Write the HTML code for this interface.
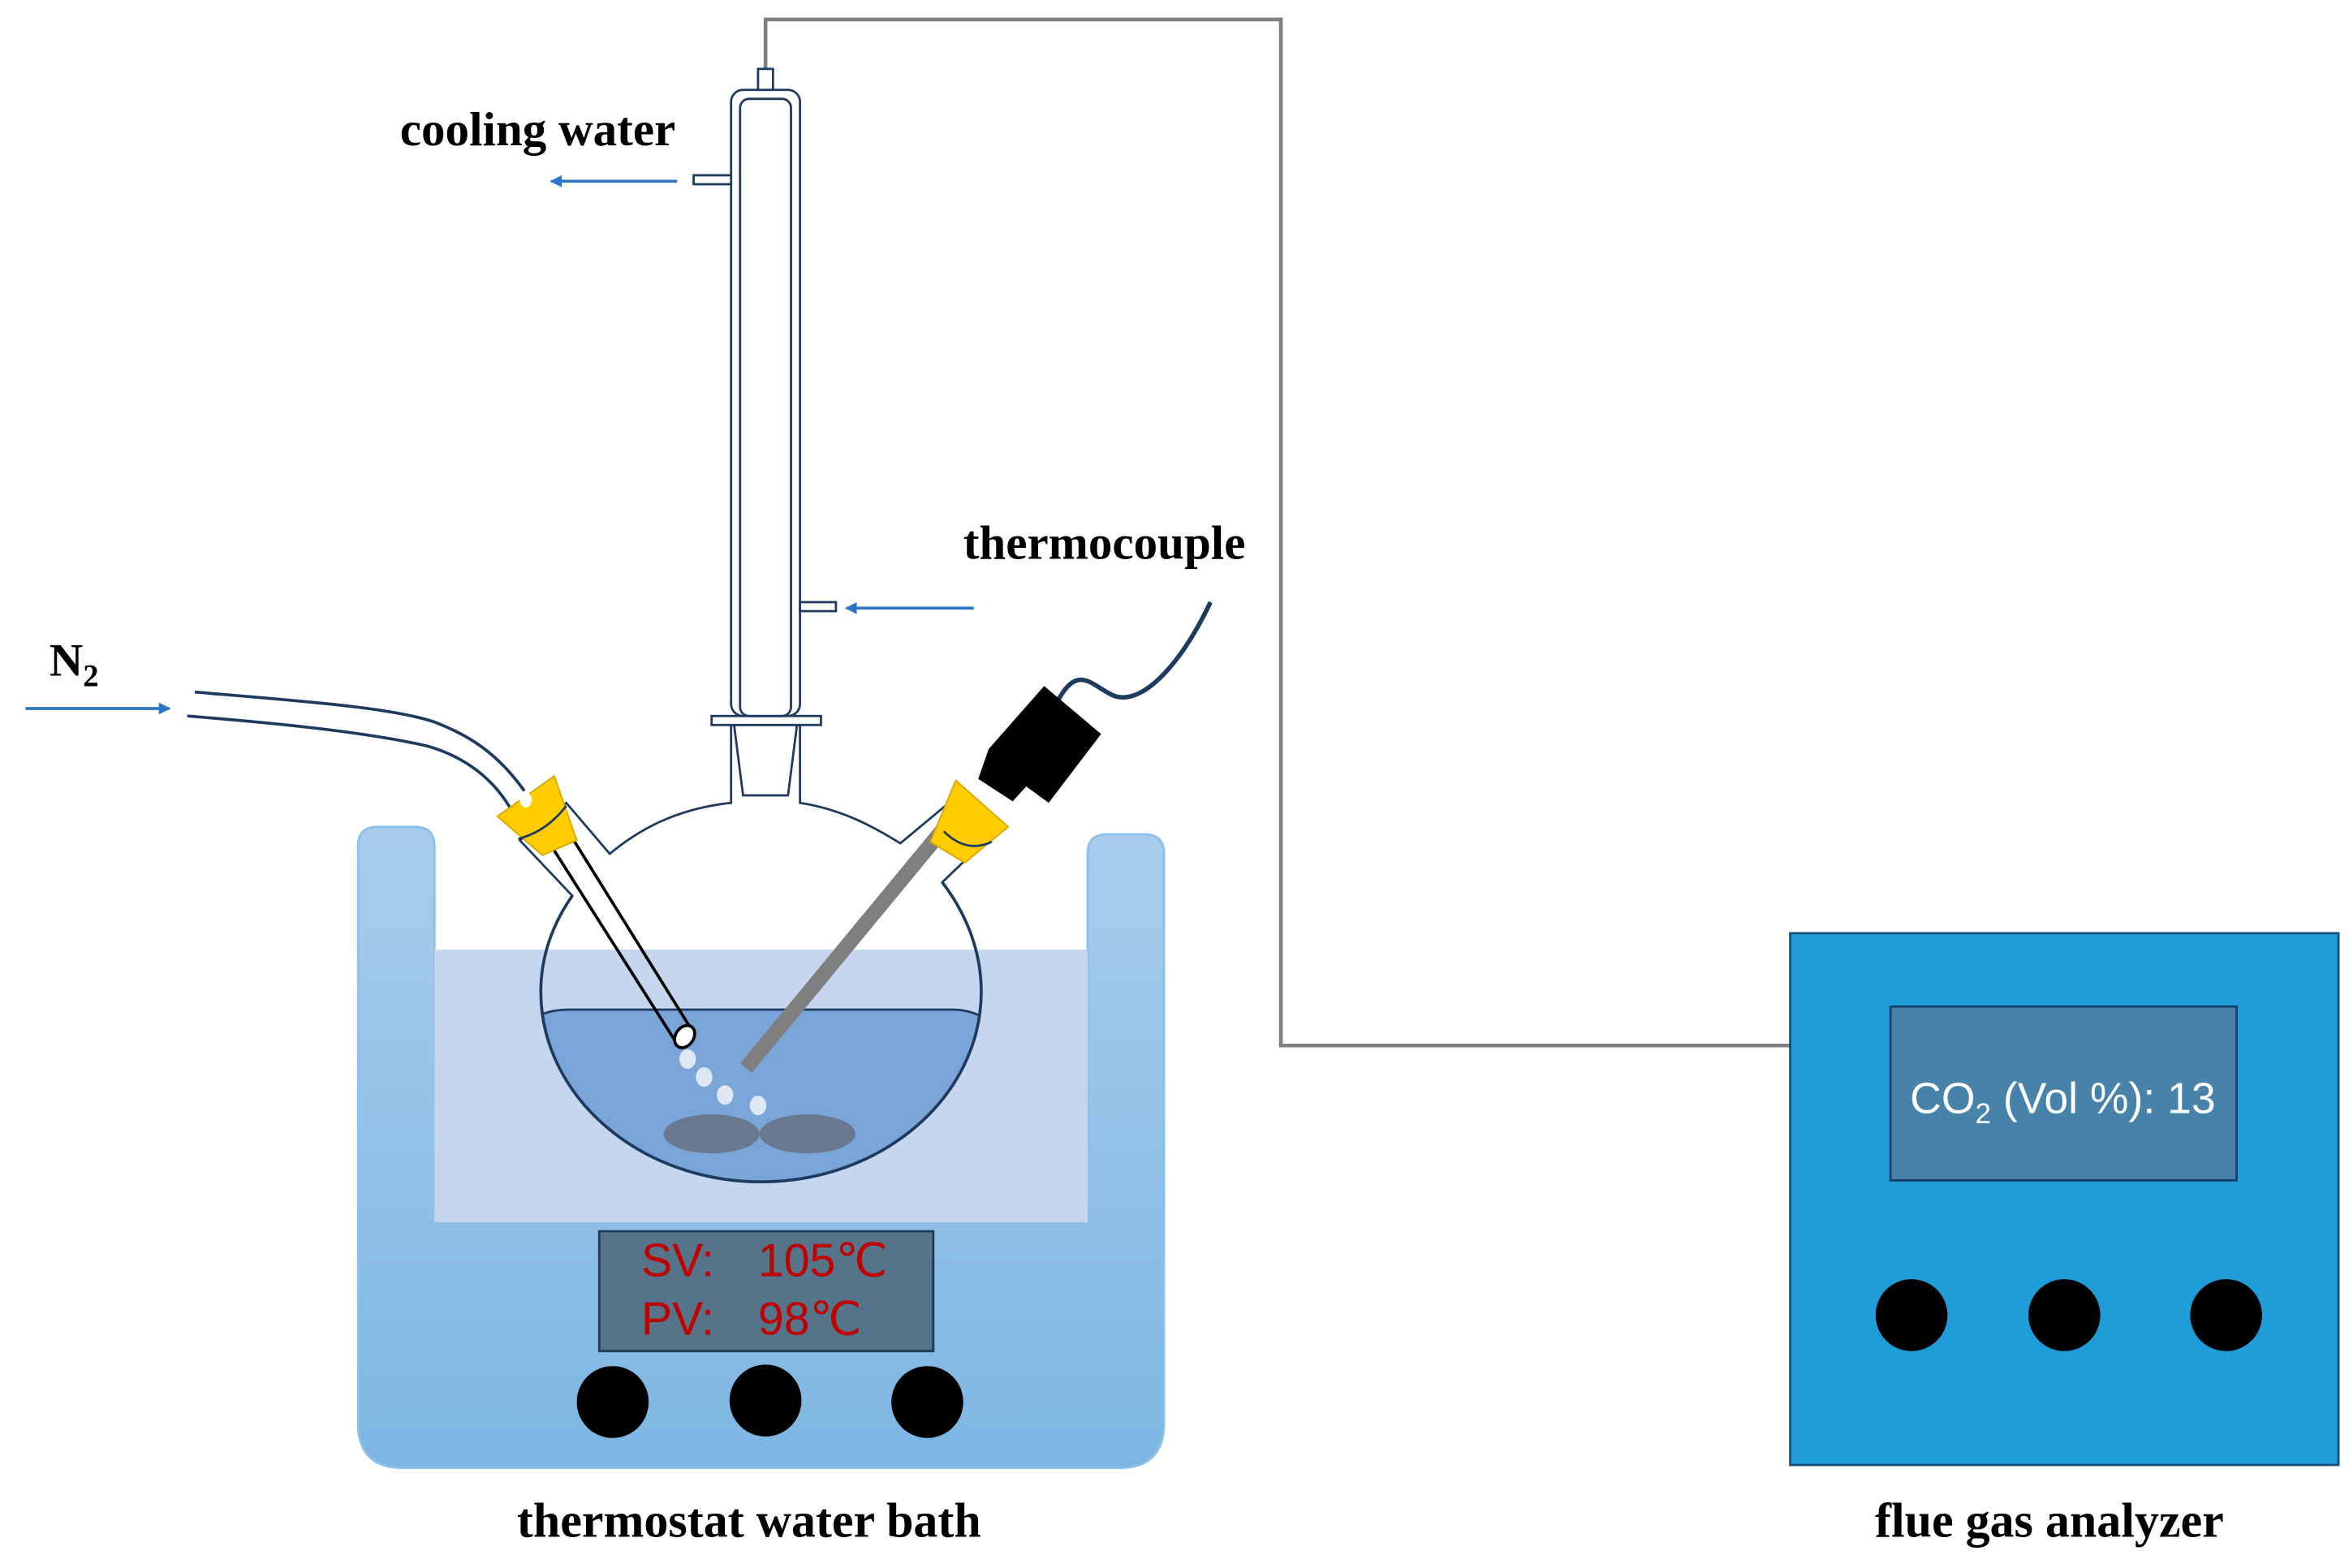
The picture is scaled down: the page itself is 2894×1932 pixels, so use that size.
<!DOCTYPE html>
<html><head><meta charset="utf-8"><style>
html,body{margin:0;padding:0;background:#fff;}
svg{display:block;}
text{font-family:"Liberation Serif",serif;font-weight:bold;}
</style></head><body>
<svg width="2894" height="1932" viewBox="0 0 1568 1046.8" xmlns="http://www.w3.org/2000/svg">
<defs>
<linearGradient id="bath" x1="0" y1="0" x2="0" y2="1">
<stop offset="0" stop-color="#a8cdec"/><stop offset="1" stop-color="#7db6e3"/></linearGradient>
<clipPath id="fl"><ellipse cx="508" cy="662" rx="147" ry="127"/></clipPath>
<marker id="ah" markerWidth="8" markerHeight="8" refX="7" refY="4" orient="auto" markerUnits="userSpaceOnUse"><path d="M0,0 L8,4 L0,8 z" fill="#2e75c6"/></marker>
</defs>
<polyline points="511,46 511,13 855,13 855,698 1195,698" fill="none" stroke="#7f7f7f" stroke-width="2.5"/>
<path d="M239,565 Q239,552 252,552 L277,552 Q290,552 290,565 L290,816 L726,816 L726,570 Q726,557 739,557 L764,557 Q777,557 777,570 L777,950 Q777,980 747,980 L269,980 Q239,980 239,950 Z" fill="url(#bath)" stroke="#8cc0ea" stroke-width="1.5"/>
<rect x="290" y="634" width="436" height="182" fill="#c5d6ee"/>
<rect x="400" y="822" width="223" height="80" fill="#557389" stroke="#1f3a55" stroke-width="1.5"/>
<g style="font-weight:normal;font-family:'Liberation Sans Narrow','Liberation Sans',sans-serif" font-size="31" fill="#c00000">
<text x="428" y="852" style="font-weight:normal;font-family:'Liberation Sans Narrow','Liberation Sans',sans-serif">SV:</text>
<text x="506" y="852" style="font-weight:normal;font-family:'Liberation Sans Narrow','Liberation Sans',sans-serif">105℃</text>
<text x="428" y="891" style="font-weight:normal;font-family:'Liberation Sans Narrow','Liberation Sans',sans-serif">PV:</text>
<text x="506" y="891" style="font-weight:normal;font-family:'Liberation Sans Narrow','Liberation Sans',sans-serif">98℃</text>
</g>
<circle cx="409" cy="936" r="24"/><circle cx="511" cy="935" r="24"/><circle cx="619" cy="936" r="24"/>
<!-- flask -->
<path id="fp" d="M488,536 C450,540 425,555 407,570 L378,536 L347,561 L382,598 C368,618 361,640 361,662 C361,732 427,789 508,789 C589,789 655,732 655,662 C655,635 645,610 629,589 L656,563 L631,538 L601,563 C580,550 560,540 534,536 L534,484 L488,484 Z" fill="#fff" stroke="#1f3a5f" stroke-width="1.5"/>
<path d="M290,634 H726 V816 H290 Z" fill="#c5d6ee" clip-path="url(#fl)"/>
<path d="M340,700 Q350,674 380,674 L636,674 Q660,674 680,700 L680,800 L340,800 Z" fill="#7aa5d9" stroke="#1f3a5f" stroke-width="1.5" clip-path="url(#fl)"/>
<path d="M382,598 C368,618 361,640 361,662 C361,732 427,789 508,789 C589,789 655,732 655,662 C655,635 645,610 629,589" fill="none" stroke="#1f3a5f" stroke-width="2"/>
<ellipse cx="475" cy="757" rx="32" ry="13" fill="#69788f"/>
<ellipse cx="539" cy="757" rx="32" ry="13" fill="#69788f"/>
<g fill="#dfe8f5"><ellipse cx="459" cy="707" rx="5.5" ry="6.5"/><ellipse cx="470" cy="719" rx="5.5" ry="6.5"/><ellipse cx="484" cy="731" rx="5.5" ry="6.5"/><ellipse cx="506" cy="738" rx="5.5" ry="6.5"/></g>
<!-- condenser -->
<path d="M490,484 L496,531 L526,531 L532,484" fill="none" stroke="#1f3a5f" stroke-width="1.5"/>
<rect x="475" y="478" width="73" height="6" fill="#fff" stroke="#1f3a5f" stroke-width="1.5"/>
<rect x="488" y="60" width="46" height="418" rx="8" fill="#fff" stroke="#1f3a5f" stroke-width="1.5"/>
<rect x="494" y="66" width="34" height="412" rx="6" fill="none" stroke="#1f3a5f" stroke-width="1.5"/>
<rect x="506" y="46" width="10" height="14" fill="#fff" stroke="#1f3a5f" stroke-width="1.5"/>
<rect x="463" y="117" width="25" height="6" fill="#fff" stroke="#1f3a5f" stroke-width="1.5"/>
<rect x="534" y="402" width="24" height="6" fill="#fff" stroke="#1f3a5f" stroke-width="1.5"/>
<line x1="452" y1="121" x2="368" y2="121" stroke="#2e75c6" stroke-width="2" marker-end="url(#ah)"/>
<line x1="650" y1="406" x2="565" y2="406" stroke="#2e75c6" stroke-width="2" marker-end="url(#ah)"/>
<line x1="17" y1="473" x2="113" y2="473" stroke="#2e75c6" stroke-width="2" marker-end="url(#ah)"/>
<!-- N2 tube -->
<path d="M130,462 C200,468 260,472 290,482 C310,490 330,500 350,528" fill="none" stroke="#1f3a5f" stroke-width="2"/>
<path d="M125,478 C200,484 250,490 285,498 C310,505 330,520 342,542" fill="none" stroke="#1f3a5f" stroke-width="2"/>
<path d="M365,560 L452,697 M378,553 L462,688" stroke="#000" stroke-width="2"/>
<ellipse cx="457" cy="692" rx="6" ry="8" transform="rotate(35 457 692)" fill="#fff" stroke="#000" stroke-width="2"/>
<!-- thermocouple -->
<line x1="645" y1="535" x2="498" y2="713" stroke="#7f7f7f" stroke-width="10"/>
<path d="M705,470 C720,440 730,460 745,465 C765,470 790,440 808,402" fill="none" stroke="#1f3a5f" stroke-width="3"/>
<polygon points="660,500 697,458 735,490 700,536 685,525 676,535 653,520" fill="#000"/>
<!-- collars -->
<polygon points="332,545 370,518 385,561 362,571" fill="#ffcc00" stroke="#d9a800"/>
<ellipse cx="351" cy="534" rx="4" ry="5" fill="#fff"/>
<path d="M346,560 Q365,555 378,538" fill="none" stroke="#1f3a5f" stroke-width="1.5"/>
<polygon points="638,521 673,552 644,576 621,562" fill="#ffcc00" stroke="#d9a800"/>
<path d="M630,555 Q645,570 662,562" fill="none" stroke="#1f3a5f" stroke-width="1.5"/>
<!-- analyzer -->
<rect x="1195" y="623" width="366" height="355" fill="#1e9dd9" stroke="#1a4e7a" stroke-width="1.5"/>
<rect x="1262" y="672" width="231" height="116" fill="#4682a9" stroke="#1a3e66" stroke-width="1.5"/>
<text x="1275" y="743" font-size="29" fill="#fff" style="font-weight:normal;font-family:'Liberation Sans',sans-serif">CO<tspan font-size="19" dy="7">2</tspan><tspan dy="-7"> (Vol %): 13</tspan></text>
<ellipse cx="1276" cy="878" rx="24" ry="24"/><ellipse cx="1378" cy="878" rx="24" ry="24"/><ellipse cx="1486" cy="878" rx="24" ry="24"/>
<text x="267" y="97" font-size="32">cooling water</text>
<text x="643" y="373" font-size="32">thermocouple</text>
<text x="33" y="451" font-size="31">N<tspan font-size="21" dy="7">2</tspan></text>
<text x="500" y="1026" font-size="32.5" text-anchor="middle">thermostat water bath</text>
<text x="1368" y="1026" font-size="32.5" text-anchor="middle">flue gas analyzer</text>
</svg>
</body></html>
